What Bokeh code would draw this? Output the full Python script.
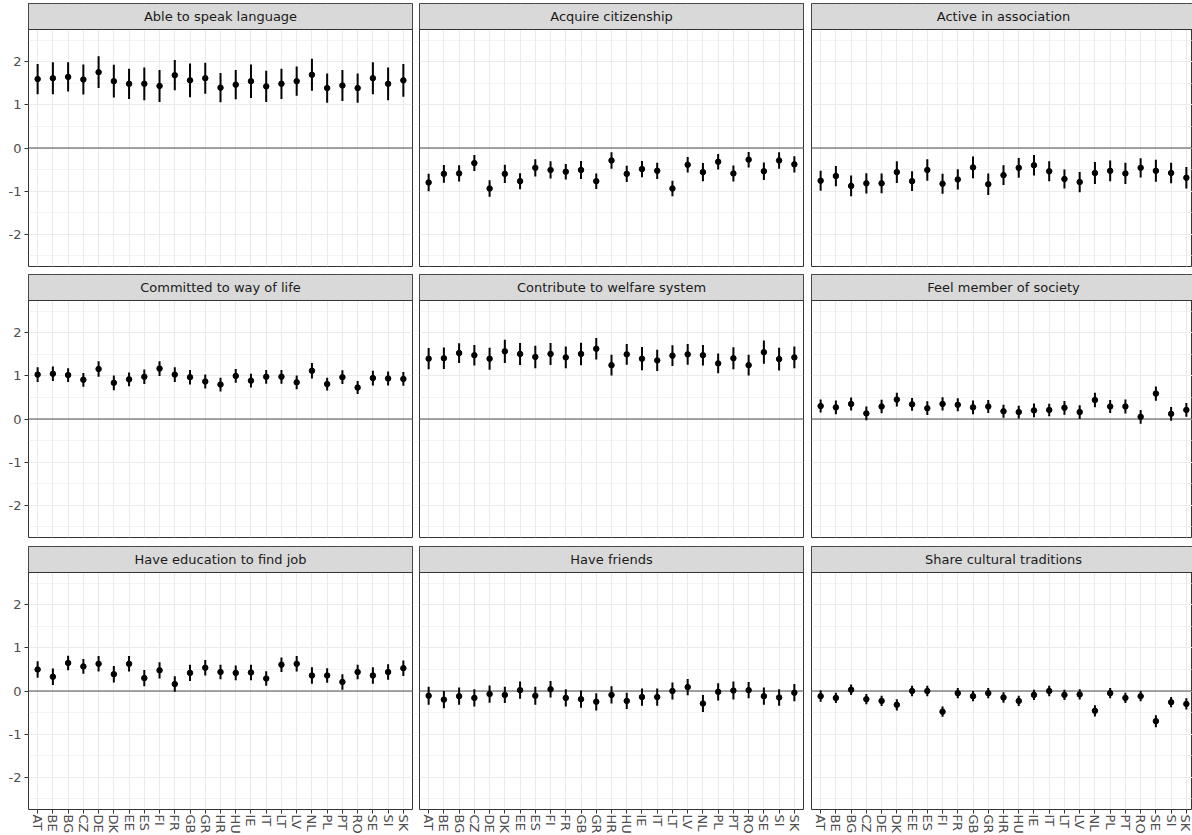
from bokeh.plotting import figure
from bokeh.models import ColumnDataSource, Range1d, FixedTicker, Span
from bokeh.layouts import column, row
from bokeh.embed import file_html
from bokeh.resources import INLINE
from bokeh.core.properties import value

# Countries on the x axis
countries = ["AT", "BE", "BG", "CZ", "DE", "DK", "EE", "ES", "FI", "FR", "GB", "GR", "HR",
             "HU", "IE", "IT", "LT", "LV", "NL", "PL", "PT", "RO", "SE", "SI", "SK"]

# Facet titles
panel_titles = ["Able to speak language", "Acquire citizenship", "Active in association",
                "Committed to way of life", "Contribute to welfare system", "Feel member of society",
                "Have education to find job", "Have friends", "Share cultural traditions"]

# Y tick values and their labels (plain hyphen-minus)
y_ticks = [-2, -1, 0, 1, 2]
y_tick_labels = ["-2", "-1", "0", "1", "2"]

# Point estimates and half-widths of the 95% intervals, one pair per facet
speak_est = [1.60, 1.62, 1.65, 1.59, 1.76, 1.55, 1.49, 1.49, 1.44, 1.69, 1.57, 1.62, 1.40,
             1.47, 1.55, 1.43, 1.49, 1.55, 1.70, 1.39, 1.45, 1.39, 1.62, 1.49, 1.57]
speak_ci = [0.35, 0.37, 0.34, 0.35, 0.37, 0.38, 0.35, 0.38, 0.37, 0.35, 0.39, 0.36, 0.34,
            0.34, 0.39, 0.36, 0.35, 0.34, 0.37, 0.34, 0.36, 0.34, 0.37, 0.38, 0.38]

citizen_est = [-0.80, -0.60, -0.59, -0.35, -0.94, -0.60, -0.77, -0.46, -0.51, -0.55, -0.51, -0.77, -0.29,
               -0.60, -0.49, -0.53, -0.94, -0.39, -0.56, -0.32, -0.59, -0.27, -0.54, -0.29, -0.38]
citizen_ci = [0.205, 0.205, 0.19, 0.185, 0.19, 0.21, 0.185, 0.20, 0.20, 0.18, 0.21, 0.18, 0.19,
              0.19, 0.19, 0.19, 0.18, 0.18, 0.21, 0.18, 0.185, 0.18, 0.205, 0.19, 0.19]

assoc_est = [-0.76, -0.65, -0.88, -0.82, -0.82, -0.56, -0.77, -0.51, -0.83, -0.73, -0.45, -0.84, -0.63,
             -0.46, -0.40, -0.54, -0.72, -0.79, -0.58, -0.53, -0.59, -0.46, -0.53, -0.58, -0.69]
assoc_ci = [0.23, 0.235, 0.24, 0.235, 0.23, 0.25, 0.23, 0.25, 0.23, 0.235, 0.25, 0.25, 0.23,
            0.23, 0.24, 0.23, 0.22, 0.235, 0.255, 0.24, 0.245, 0.225, 0.255, 0.24, 0.25]

committed_est = [1.03, 1.05, 1.02, 0.91, 1.16, 0.84, 0.92, 0.98, 1.17, 1.03, 0.97, 0.87, 0.80,
                 1.00, 0.89, 0.98, 0.98, 0.85, 1.12, 0.81, 0.97, 0.73, 0.95, 0.94, 0.93]
committed_ci = [0.17, 0.17, 0.16, 0.16, 0.18, 0.17, 0.16, 0.17, 0.17, 0.17, 0.17, 0.16, 0.16,
                0.16, 0.16, 0.16, 0.16, 0.16, 0.18, 0.15, 0.16, 0.15, 0.17, 0.16, 0.16]

welfare_est = [1.40, 1.41, 1.53, 1.48, 1.40, 1.57, 1.51, 1.44, 1.51, 1.43, 1.51, 1.63, 1.25,
               1.50, 1.40, 1.36, 1.47, 1.50, 1.48, 1.29, 1.41, 1.25, 1.55, 1.39, 1.43]
welfare_ci = [0.245, 0.25, 0.23, 0.24, 0.255, 0.27, 0.255, 0.26, 0.255, 0.25, 0.26, 0.25, 0.24,
              0.24, 0.27, 0.245, 0.24, 0.24, 0.24, 0.23, 0.255, 0.24, 0.27, 0.265, 0.25]

member_est = [0.30, 0.27, 0.35, 0.13, 0.29, 0.45, 0.34, 0.25, 0.35, 0.33, 0.27, 0.29, 0.18,
              0.16, 0.20, 0.21, 0.26, 0.16, 0.44, 0.29, 0.29, 0.05, 0.59, 0.12, 0.21]
member_ci = [0.15, 0.16, 0.15, 0.16, 0.155, 0.16, 0.15, 0.16, 0.155, 0.15, 0.16, 0.15, 0.15,
             0.15, 0.16, 0.145, 0.16, 0.16, 0.17, 0.15, 0.16, 0.16, 0.165, 0.16, 0.16]

educ_est = [0.50, 0.33, 0.65, 0.57, 0.63, 0.39, 0.63, 0.30, 0.48, 0.16, 0.42, 0.54, 0.44,
            0.42, 0.43, 0.29, 0.61, 0.63, 0.36, 0.36, 0.21, 0.44, 0.36, 0.44, 0.53]
educ_ci = [0.19, 0.19, 0.17, 0.17, 0.18, 0.19, 0.18, 0.19, 0.19, 0.18, 0.19, 0.18, 0.17,
           0.17, 0.18, 0.17, 0.17, 0.18, 0.19, 0.17, 0.18, 0.17, 0.19, 0.18, 0.18]

friends_est = [-0.11, -0.20, -0.12, -0.16, -0.07, -0.09, 0.02, -0.11, 0.04, -0.16, -0.19, -0.25, -0.09,
               -0.23, -0.14, -0.14, 0.00, 0.09, -0.29, -0.02, 0.01, 0.02, -0.12, -0.15, -0.04]
friends_ci = [0.21, 0.20, 0.20, 0.20, 0.20, 0.19, 0.20, 0.21, 0.19, 0.20, 0.20, 0.20, 0.20,
              0.19, 0.20, 0.20, 0.20, 0.19, 0.20, 0.20, 0.21, 0.19, 0.20, 0.19, 0.20]

culture_est = [-0.12, -0.16, 0.03, -0.19, -0.23, -0.32, 0.00, 0.00, -0.48, -0.05, -0.12, -0.05, -0.15,
               -0.23, -0.09, 0.00, -0.09, -0.08, -0.46, -0.05, -0.16, -0.12, -0.70, -0.26, -0.30]
culture_ci = [0.13, 0.12, 0.12, 0.12, 0.12, 0.13, 0.12, 0.12, 0.12, 0.12, 0.12, 0.12, 0.12,
              0.12, 0.12, 0.12, 0.12, 0.12, 0.13, 0.12, 0.12, 0.12, 0.14, 0.12, 0.13]

series = [(speak_est, speak_ci), (citizen_est, citizen_ci), (assoc_est, assoc_ci),
          (committed_est, committed_ci), (welfare_est, welfare_ci), (member_est, member_ci),
          (educ_est, educ_ci), (friends_est, friends_ci), (culture_est, culture_ci)]

# Geometry of the facet grid
X_LO, X_HI = 0.4, 25.6          # discrete scale expanded by 0.6 on each side
Y_LO, Y_HI = -2.75, 2.75
FRAME_W, FRAME_H = 384, 263
PX_PER_UNIT_X = FRAME_W / (X_HI - X_LO)
STRIP_PX = 26
PANEL_PX = FRAME_H - STRIP_PX
STRIP = STRIP_PX * (Y_HI - Y_LO) / PANEL_PX   # strip depth in data units

BORDER_LEFT = [28, 4, 4]
BORDER_RIGHT = [3, 4, 0]
BORDER_TOP = [3, 4, 5]
BORDER_BOTTOM = [4, 4, 0]

FONT = "DejaVu Sans"
GRID = "#EBEBEB"
DARK = "#333333"
positions = list(range(1, len(countries) + 1))


def make_panel(idx, title, est, ci):
    r, c = divmod(idx, 3)
    # the last column runs up to the right edge of the page
    frame_w = FRAME_W if c < 2 else FRAME_W - 3
    x_end = X_LO + frame_w / PX_PER_UNIT_X

    p = figure(frame_width=frame_w, frame_height=FRAME_H,
               x_range=Range1d(X_LO, x_end), y_range=Range1d(Y_LO, Y_HI + STRIP),
               output_backend="svg", toolbar_location=None,
               min_border_left=BORDER_LEFT[c], min_border_right=BORDER_RIGHT[c],
               min_border_top=BORDER_TOP[r], min_border_bottom=BORDER_BOTTOM[r])
    p.background_fill_color = "white"
    p.border_fill_color = "white"
    p.outline_line_color = DARK
    p.outline_line_width = 1

    p.xaxis.ticker = FixedTicker(ticks=positions)
    p.xaxis.major_label_overrides = {pos: name for pos, name in zip(positions, countries)}
    p.xaxis.major_label_orientation = "vertical"
    p.yaxis.ticker = FixedTicker(ticks=y_ticks,
                                 minor_ticks=[-2.5, -1.5, -0.5, 0.5, 1.5, 2.5])
    p.yaxis.major_label_overrides = {t: s for t, s in zip(y_ticks, y_tick_labels)}

    for ax in (p.xaxis[0], p.yaxis[0]):
        ax.axis_line_color = None
        ax.major_tick_line_color = DARK
        ax.major_tick_in = 0
        ax.major_tick_out = 4
        ax.minor_tick_line_color = None
        ax.major_label_text_color = "#4D4D4D"
        ax.major_label_text_font = FONT
        ax.major_label_text_font_size = "13px"
    p.xaxis.major_label_standoff = 1
    p.yaxis.major_label_standoff = 3
    p.xaxis.visible = (r == 2)
    p.yaxis.visible = (c == 0)

    p.xgrid.grid_line_color = GRID
    p.xgrid.grid_line_width = 1.1
    p.ygrid.grid_line_color = GRID
    p.ygrid.grid_line_width = 1.1
    p.ygrid.minor_grid_line_color = GRID
    p.ygrid.minor_grid_line_width = 0.6

    p.add_layout(Span(location=0, dimension="width", line_color="#4D4D4D",
                      line_width=1, level="underlay"))

    src = ColumnDataSource(dict(
        x=positions, est=est,
        lo=[e - h for e, h in zip(est, ci)],
        hi=[e + h for e, h in zip(est, ci)],
    ))
    p.segment(x0="x", y0="lo", x1="x", y1="hi", source=src, line_color="black", line_width=2)
    p.scatter(x="x", y="est", source=src, size=5.5, color="black")

    # facet strip
    p.quad(left=[X_LO], right=[x_end], bottom=[Y_HI], top=[Y_HI + STRIP],
           fill_color="#D9D9D9", line_color=DARK, line_width=1)
    p.text(x=[(X_LO + X_HI) / 2], y=[Y_HI + STRIP / 2], text=[title],
           text_align="center", text_baseline="middle",
           text_font=value(FONT), text_font_size="13px", text_color="#1A1A1A")
    return p


figs = [make_panel(i, t, e, h) for i, (t, (e, h)) in enumerate(zip(panel_titles, series))]
layout = column(row(*figs[0:3]), row(*figs[3:6]), row(*figs[6:9]))

open("out.html", "w").write(file_html(layout, INLINE))
